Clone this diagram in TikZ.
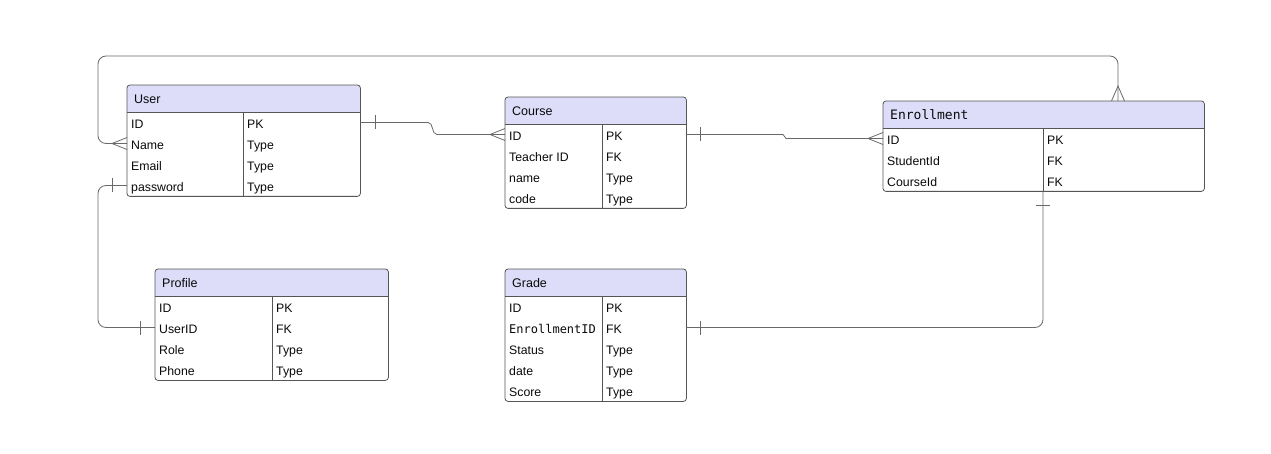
\documentclass[tikz,border=0pt]{standalone}
\usepackage{fontspec}
\setmainfont{Liberation Sans}
\newfontfamily\monof{DejaVu Sans Mono}
\usetikzlibrary{calc}
\definecolor{headfill}{RGB}{221,221,250}
\definecolor{bordercol}{RGB}{85,85,85}
\definecolor{linecol}{RGB}{105,105,105}
\definecolor{txtcol}{RGB}{10,10,10}
\tikzset{
  conn/.style={draw=linecol, line width=0.8pt},
  boxline/.style={draw=bordercol, line width=0.8pt},
  celltext/.style={font=\fontsize{12.3}{14}\selectfont, text=txtcol, inner sep=0pt, text height=8.7pt, text depth=0pt},
  titletext/.style={font=\fontsize{12.5}{14}\selectfont, text=txtcol, inner sep=0pt, text height=8.9pt, text depth=0pt},
}
\newcommand\ertable[8]{%
  % #1 name, #2 left, #3 right, #4 divider, #5 top, #6 rows, #7 title, #8 row list
  \pgfmathsetmacro\ertH{27+21*#6}
  \node[anchor=north west, inner sep=0pt, minimum width={#3-#2}, minimum height=\ertH] (#1) at (#2,#5) {};
  \begin{scope}
    \clip[rounded corners=3] (#1.north west) rectangle (#1.south east);
    \fill[headfill] (#1.north west) rectangle ($(#1.north east)+(0,27)$);
  \end{scope}
  \draw[boxline] ($(#1.north west)+(0,27)$) -- ($(#1.north east)+(0,27)$);
  \draw[boxline] ($(#1.north west)+(#4-#2,27)$) -- ($(#1.south west)+(#4-#2,0)$);
  \draw[boxline, rounded corners=3] (#1.north west) rectangle (#1.south east);
  \node[titletext, anchor=west] (#1-t) at ($(#1.north west)+(7,14.5)$) {#7};
  \foreach \ka/\kb [count=\i] in {#8} {
    \coordinate (#1-l\i) at ($(#1.north west)+(0,27+21*\i-10.5)$);
    \coordinate (#1-r\i) at ($(#1.north east)+(0,27+21*\i-10.5)$);
    \node[celltext, anchor=west] (#1-a\i) at ($(#1-l\i)+(4,1.5)$) {\ka};
    \node[celltext, anchor=west] (#1-b\i) at ($(#1-l\i)+(#4-#2+4,1.5)$) {\kb};
  }
}
\newcommand\crowleft[1]{\draw[conn] ($(#1)+(0,-6)$) -- ($(#1)+(-15,0)$) -- ($(#1)+(0,6)$);}
\newcommand\crowtop[1]{\draw[conn] ($(#1)+(-6.5,0)$) -- ($(#1)+(0,-15)$) -- ($(#1)+(6.5,0)$);}
\newcommand\barx[2]{\draw[conn] ($(#1)+(#2,-7)$) -- ($(#1)+(#2,7)$);}
\newcommand\bary[2]{\draw[conn] ($(#1)+(-7,#2)$) -- ($(#1)+(7,#2)$);}
\begin{document}
\begin{tikzpicture}[x=1pt, y=-1pt]
  \fill[white] (0,0) rectangle (1271,454);
  \useasboundingbox (0,0) rectangle (1271,454);

  \ertable{U}{127}{360}{243}{85}{4}{User}{ID/PK, Name/Type, Email/Type, password/Type}
  \ertable{C}{505}{686}{602}{97}{4}{Course}{ID/PK, Teacher ID/FK, name/Type, code/Type}
  \ertable{E}{883}{1204}{1043}{101}{3}{{\monof\fontsize{13}{15}\selectfont Enrollment}}{ID/PK, StudentId/FK, CourseId/FK}
  \ertable{P}{155}{388}{272}{269}{4}{Profile}{ID/PK, UserID/FK, Role/Type, Phone/Type}
  \ertable{G}{505}{686}{602}{269}{5}{Grade}{ID/PK, {\monof\fontsize{12}{14}\selectfont EnrollmentID}/FK, Status/Type, date/Type, Score/Type}

  \coordinate (Etop) at ($(E.north west)+(235,0)$);
  \coordinate (Ebot) at ($(E.south west)+(160,0)$);

  % User -- Course
  \draw[conn] (U-r1) -- (428,0 |- U-r1) .. controls (434,0 |- U-r1) and (431,0 |- C-l1) .. (437,0 |- C-l1) -- (C-l1);
  \barx{U-r1}{15}
  \crowleft{C-l1}

  % Course -- Enrollment
  \draw[conn] (C-r1) -- (783,0 |- C-r1) -- (786,0 |- E-l1) -- (E-l1);
  \barx{C-r1}{14}
  \crowleft{E-l1}

  % Enrollment -- User (many to many)
  \draw[conn, rounded corners=8] (Etop) -- ($(Etop)+(0,-45)$) -- (98,56) -- (98,0 |- U-l2) -- (U-l2);
  \crowtop{Etop}
  \crowleft{U-l2}

  % User -- Profile
  \draw[conn, rounded corners=8] (U-l4) -- (98,0 |- U-l4) -- (98,0 |- P-l2) -- (P-l2);
  \barx{U-l4}{-15}
  \barx{P-l2}{-15}

  % Enrollment -- Grade
  \draw[conn, rounded corners=8] (Ebot) -- (Ebot |- G-r2) -- (G-r2);
  \bary{Ebot}{14}
  \barx{G-r2}{14}
\end{tikzpicture}
\end{document}
